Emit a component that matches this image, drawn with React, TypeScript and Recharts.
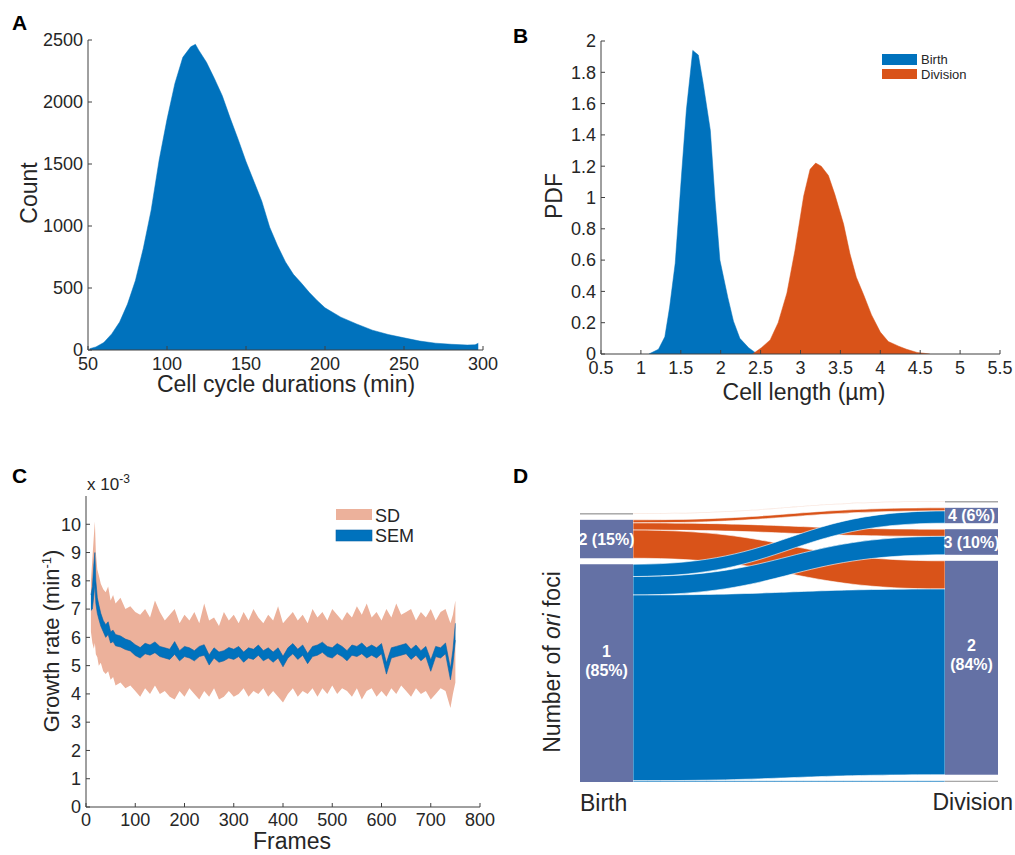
import { Area, AreaChart, Sankey, XAxis, YAxis } from "recharts";

const BLUE = "#0072BD";
const ORANGE = "#D95319";
const PEACH = "#ECB19B";
const SLATE = "#6471A5";
const AXIS_COLOR = "#404040";
const TEXT_COLOR = "#262626";
const FONT = "'Liberation Sans', Arial, Helvetica, sans-serif";
const TICK_LEN = 4;

// A: cell cycle durations
const cycleMinutes = [51, 55, 60, 65, 70, 75, 80, 85, 90, 95, 100, 105, 110, 115, 118, 120, 125, 130, 135, 140, 145, 150, 155, 160, 165, 170, 175, 180, 185, 190, 195, 200, 210, 220, 230, 240, 250, 260, 270, 280, 290, 295, 297];
const cycleCounts = [10, 25, 60, 130, 225, 370, 560, 820, 1130, 1530, 1860, 2150, 2360, 2445, 2465, 2420, 2320, 2190, 2050, 1870, 1700, 1520, 1360, 1200, 990, 840, 710, 610, 540, 465, 400, 340, 265, 210, 160, 125, 98, 72, 55, 46, 40, 42, 55];
const cycleTicksX = [50, 100, 150, 200, 250, 300];
const cycleTicksY = [0, 500, 1000, 1500, 2000, 2500];

// B: cell length PDFs
const birthLength = [1.1, 1.22, 1.3, 1.36, 1.43, 1.51, 1.57, 1.65, 1.72, 1.78, 1.87, 1.93, 1.99, 2.09, 2.16, 2.24, 2.35, 2.43, 2.5];
const birthPdf = [0, 0.03, 0.11, 0.3, 0.58, 1.15, 1.56, 1.94, 1.91, 1.73, 1.43, 0.98, 0.6, 0.36, 0.21, 0.1, 0.04, 0.01, 0];
const divisionLength = [2.4, 2.51, 2.62, 2.72, 2.83, 2.93, 3.04, 3.12, 3.19, 3.26, 3.35, 3.43, 3.54, 3.62, 3.7, 3.79, 3.89, 4.0, 4.1, 4.23, 4.33, 4.46, 4.62];
const divisionPdf = [0, 0.04, 0.09, 0.2, 0.39, 0.66, 1.01, 1.18, 1.22, 1.2, 1.14, 1.02, 0.83, 0.64, 0.49, 0.38, 0.25, 0.14, 0.08, 0.05, 0.03, 0.01, 0];
const lengthTicksX = [0.5, 1, 1.5, 2, 2.5, 3, 3.5, 4, 4.5, 5, 5.5];
const pdfTicksY = [0, 0.2, 0.4, 0.6, 0.8, 1, 1.2, 1.4, 1.6, 1.8, 2];

// C: growth rate (x 10^-3 min^-1)
const growthFrames = [10, 13, 16, 18, 20, 23, 26, 30, 35, 40, 45, 50, 55, 60, 70, 80, 90, 100, 110, 120, 130, 140, 150, 160, 170, 180, 190, 200, 210, 220, 230, 240, 250, 260, 270, 280, 290, 300, 310, 320, 330, 340, 350, 360, 370, 380, 390, 400, 410, 420, 430, 440, 450, 460, 470, 480, 490, 500, 510, 520, 530, 540, 550, 560, 570, 580, 590, 600, 610, 620, 630, 640, 650, 660, 670, 680, 690, 700, 710, 720, 730, 740, 745, 750];
const sdHigh = [8.0, 8.8, 9.6, 10.1, 9.0, 8.4, 8.2, 7.9, 7.7, 7.6, 7.8, 7.3, 7.5, 7.2,
  7.4, 7.0, 7.1, 6.9, 6.8, 7.0, 6.7, 7.3, 6.9, 6.6,
  6.8, 7.0, 6.5, 6.8, 6.6, 6.9, 6.5, 7.2, 6.6, 6.7,
  6.4, 6.9, 6.6, 6.8, 6.5, 6.9, 6.6, 7.0, 6.7, 6.5,
  6.8, 6.6, 7.1, 6.5, 6.7, 6.9, 6.6, 6.8, 6.5, 7.0,
  6.7, 6.9, 6.6, 7.0, 6.8, 6.6, 6.9, 6.7, 7.1, 6.8,
  7.2, 6.7, 6.9, 6.6, 7.0, 6.7, 7.2, 6.8, 6.9, 7.0,
  6.6, 6.9, 6.7, 7.0, 6.6, 6.9, 7.0, 6.5,
  6.8, 7.3];
const sdLow = [6.2, 5.8, 5.6, 5.8, 5.4, 5.3, 5.0, 5.1, 4.8, 4.7, 4.8, 4.5, 4.6, 4.3,
  4.4, 4.2, 4.3, 4.1, 3.9, 4.2, 4.0, 4.3, 4.0, 4.1,
  3.9, 3.8, 4.1, 3.9, 4.2, 4.0, 3.8, 4.1, 3.9, 4.2,
  3.8, 3.9, 4.1, 3.9, 4.0, 4.2, 3.9, 4.1, 4.0, 4.2,
  3.9, 4.1, 3.9, 3.7, 4.0, 4.2, 3.9, 4.1, 4.0, 4.2,
  3.9, 4.2, 4.0, 4.3, 4.0, 4.2, 4.1, 3.9, 4.2, 3.8,
  4.1, 4.2, 3.9, 4.1, 3.9, 4.2, 4.0, 4.3, 4.1, 3.9,
  4.2, 4.0, 4.1, 3.8, 4.0, 4.2, 4.1, 3.5,
  4.0, 4.4];
const semLow = [6.95, 7.0, 7.5, 7.9, 7.2, 6.85, 6.65, 6.4, 6.2, 6.0, 6.1, 5.8, 5.85, 5.7,
  5.66, 5.57, 5.52, 5.36, 5.27, 5.42, 5.37, 5.46, 5.32, 5.27,
  5.22, 5.4, 5.17, 5.32, 5.27, 5.17, 5.32, 5.37, 5.02, 5.27,
  5.12, 5.17, 5.27, 5.22, 5.32, 5.12, 5.27, 5.22, 5.37, 5.17,
  5.27, 5.12, 5.27, 4.96, 5.27, 5.42, 5.22, 5.37, 5.07, 5.32,
  5.37, 5.47, 5.32, 5.27, 5.42, 5.32, 5.17, 5.37, 5.32, 5.42,
  5.27, 5.37, 5.27, 5.42, 4.7, 5.27, 5.32, 5.37, 5.42, 5.22,
  5.37, 5.17, 5.32, 4.8, 5.32, 5.27, 5.42, 4.5,
  5.05, 5.9];
const semHigh = [7.5, 7.8, 8.6, 9.0, 8.0, 7.4, 7.15, 6.85, 6.6, 6.45, 6.55, 6.2, 6.25, 6.1,
  6.05, 5.94, 5.88, 5.74, 5.64, 5.79, 5.73, 5.84, 5.68, 5.63,
  5.58, 5.85, 5.53, 5.68, 5.63, 5.53, 5.68, 5.74, 5.38, 5.63,
  5.48, 5.53, 5.64, 5.58, 5.68, 5.48, 5.63, 5.58, 5.73, 5.53,
  5.63, 5.48, 5.63, 5.33, 5.63, 5.78, 5.58, 5.73, 5.43, 5.68,
  5.73, 5.83, 5.68, 5.63, 5.78, 5.68, 5.53, 5.73, 5.68, 5.8,
  5.63, 5.73, 5.63, 5.78, 5.1, 5.63, 5.68, 5.73, 5.78, 5.58,
  5.73, 5.53, 5.68, 5.2, 5.68, 5.63, 5.8, 4.9,
  5.55, 6.5];
const frameTicks = [0, 100, 200, 300, 400, 500, 600, 700, 800];
const growthTicks = [0, 1, 2, 3, 4, 5, 6, 7, 8, 9, 10];

// D: number of ori foci, birth -> division
const oriNodeKinds = ["spacer", "spacer", "minor", "major", "major", "minor", "major", "major", "major", "minor"];
const oriNodeLines = [[], [], [], ["2 (15%)"], ["1", "(85%)"], [], ["4 (6%)"], ["3 (10%)"], ["2", "(84%)"], []];
const oriLinkSource = [0, 1, 2, 3, 3, 3, 4, 4, 4, 4];
const oriLinkTarget = [5, 5, 5, 6, 7, 8, 6, 7, 8, 9];
const oriLinkValue = [0.01, 0.01, 0.3, 1.2, 2.8, 11, 4.8, 7.2, 72.5, 0.5];
const oriLinkColor = ["none", "none", "#f2c7b4", ORANGE, ORANGE, ORANGE, BLUE, BLUE, BLUE, BLUE];

const cycleRows = cycleMinutes.map((x, i) => ({ x, count: cycleCounts[i] }));
const birthRows = birthLength.map((x, i) => ({ x, pdf: birthPdf[i] }));
const divisionRows = divisionLength.map((x, i) => ({ x, pdf: divisionPdf[i] }));
const growthRows = growthFrames.map((frame, i) => ({
  frame,
  sd: [sdLow[i], sdHigh[i]],
  sem: [semLow[i], semHigh[i]],
}));
const oriData = {
  nodes: oriNodeKinds.map((kind, i) => ({ name: `n${i}`, kind, lines: oriNodeLines[i] })),
  links: oriLinkSource.map((source, i) => ({
    source,
    target: oriLinkTarget[i],
    value: oriLinkValue[i],
    color: oriLinkColor[i],
  })),
};

const fmtTick = (v: number) => String(Math.round(v * 10) / 10);

function BottomTick({ x = 0, y = 0, payload, dy = 20 }: any) {
  return (
    <g>
      <line x1={x} y1={y} x2={x} y2={y - TICK_LEN} stroke={AXIS_COLOR} />
      <text x={x} y={y + dy} textAnchor="middle" fontSize={18} fill={TEXT_COLOR}>
        {fmtTick(payload?.value ?? 0)}
      </text>
    </g>
  );
}

function LeftTick({ x = 0, y = 0, payload }: any) {
  return (
    <g>
      <line x1={x} y1={y} x2={x + TICK_LEN} y2={y} stroke={AXIS_COLOR} />
      <text x={x - 5} y={y} dy="0.35em" textAnchor="end" fontSize={18} fill={TEXT_COLOR}>
        {fmtTick(payload?.value ?? 0)}
      </text>
    </g>
  );
}

function TopTick({ x = 0, y = 0 }: any) {
  return <line x1={x} y1={y} x2={x} y2={y + TICK_LEN} stroke={AXIS_COLOR} />;
}

function RightTick({ x = 0, y = 0 }: any) {
  return <line x1={x} y1={y} x2={x - TICK_LEN} y2={y} stroke={AXIS_COLOR} />;
}

function boxAxes(opts: {
  xKey: string;
  xDomain: [number, number];
  xTicks: number[];
  yDomain: [number, number];
  yTicks: number[];
  xHeight: number;
  yWidth: number;
  labelDy: number;
}) {
  const common = { tickSize: 0, tickMargin: 0, tickLine: false, interval: 0 as const, allowDataOverflow: true, axisLine: { stroke: AXIS_COLOR } };
  return (
    <>
      <XAxis xAxisId="b" dataKey={opts.xKey} type="number" domain={opts.xDomain} ticks={opts.xTicks} height={opts.xHeight} {...common}
        tick={(p: any) => <BottomTick {...p} dy={opts.labelDy} />} />
      <XAxis xAxisId="t" orientation="top" dataKey={opts.xKey} type="number" domain={opts.xDomain} ticks={opts.xTicks} height={0} {...common}
        tick={(p: any) => <TopTick {...p} />} />
      <YAxis yAxisId="l" type="number" domain={opts.yDomain} ticks={opts.yTicks} width={opts.yWidth} {...common}
        tick={(p: any) => <LeftTick {...p} />} />
      <YAxis yAxisId="r" orientation="right" type="number" domain={opts.yDomain} ticks={opts.yTicks} width={0} {...common}
        tick={(p: any) => <RightTick {...p} />} />
    </>
  );
}

function OriNode(props: any) {
  const { x, y, width, height, payload } = props;
  if (payload.kind === "spacer") return <g />;
  if (payload.kind === "minor") {
    return <rect x={x} y={y} width={width} height={Math.max(height, 1.5)} fill="#a8a8a8" />;
  }
  const lines: string[] = payload.lines;
  const cy = lines.length > 1 ? y + height / 2 - 22 : y + height / 2;
  return (
    <g>
      <rect x={x} y={y} width={width} height={height} fill={SLATE} />
      {lines.map((t, i) => (
        <text key={i} x={x + width / 2} y={cy + i * 19} dy="0.35em" textAnchor="middle" fill="#fff" fontSize={16} fontWeight="bold">
          {t}
        </text>
      ))}
    </g>
  );
}

function OriLink(props: any) {
  const { sourceX, targetX, sourceY, targetY, sourceControlX, targetControlX, linkWidth, payload } = props;
  if (payload.color === "none") return <g />;
  const h = linkWidth / 2;
  const d = `M${sourceX},${sourceY - h} C${sourceControlX},${sourceY - h} ${targetControlX},${targetY - h} ${targetX},${targetY - h} L${targetX},${targetY + h} C${targetControlX},${targetY + h} ${sourceControlX},${sourceY + h} ${sourceX},${sourceY + h} Z`;
  return <path d={d} fill={payload.color} stroke="#fff" strokeWidth={0.6} />;
}

export default function App() {
  return (
    <div style={{ position: "absolute", left: 0, top: 0, width: 1015, height: 855, background: "#fff", fontFamily: FONT }}>
      {/* A */}
      <div style={{ position: "absolute", left: 0, top: 0 }}>
        <AreaChart width={500} height={400} data={cycleRows} margin={{ top: 40, right: 17, bottom: 0, left: 0 }}>
          {boxAxes({ xKey: "x", xDomain: [50, 300], xTicks: cycleTicksX, yDomain: [0, 2500], yTicks: cycleTicksY, xHeight: 50, yWidth: 88, labelDy: 20 })}
          <Area xAxisId="b" yAxisId="l" type="linear" dataKey="count" stroke={BLUE} strokeWidth={0.5} fill={BLUE} fillOpacity={1} isAnimationActive={false} />
        </AreaChart>
      </div>

      {/* B */}
      <div style={{ position: "absolute", left: 500, top: 0 }}>
        <AreaChart width={515} height={400} margin={{ top: 41, right: 15, bottom: 0, left: 0 }}>
          {boxAxes({ xKey: "x", xDomain: [0.5, 5.5], xTicks: lengthTicksX, yDomain: [0, 2], yTicks: pdfTicksY, xHeight: 46, yWidth: 101, labelDy: 20 })}
          <Area data={birthRows} xAxisId="b" yAxisId="l" type="linear" dataKey="pdf" stroke={BLUE} strokeWidth={0.5} fill={BLUE} fillOpacity={1} isAnimationActive={false} />
          <Area data={divisionRows} xAxisId="b" yAxisId="l" type="linear" dataKey="pdf" stroke={ORANGE} strokeWidth={0.5} fill={ORANGE} fillOpacity={1} isAnimationActive={false} />
        </AreaChart>
      </div>

      {/* C */}
      <div style={{ position: "absolute", left: 0, top: 460 }}>
        <AreaChart width={500} height={395} data={growthRows} margin={{ top: 36, right: 20, bottom: 0, left: 0 }}>
          {boxAxes({ xKey: "frame", xDomain: [0, 800], xTicks: frameTicks, yDomain: [0, 11], yTicks: growthTicks, xHeight: 48, yWidth: 86, labelDy: 19 })}
          <Area xAxisId="b" yAxisId="l" type="linear" dataKey="sd" stroke="none" fill={PEACH} fillOpacity={1} isAnimationActive={false} />
          <Area xAxisId="b" yAxisId="l" type="linear" dataKey="sem" stroke="#0a62a6" strokeWidth={0.6} fill={BLUE} fillOpacity={1} isAnimationActive={false} />
        </AreaChart>
      </div>

      {/* D */}
      <div style={{ position: "absolute", left: 572, top: 501 }}>
        <Sankey
          width={446}
          height={281}
          data={oriData}
          margin={{ top: 0, right: 20, bottom: 0, left: 8 }}
          nodeWidth={53}
          nodePadding={6}
          iterations={0}
          sort={false}
          linkCurvature={0.5}
          node={(p: any) => <OriNode {...p} />}
          link={(p: any) => <OriLink {...p} />}
        />
      </div>

      {/* titles, axis labels, legends */}
      <svg width={1015} height={855} style={{ position: "absolute", left: 0, top: 0, pointerEvents: "none" }} fontFamily={FONT} fill={TEXT_COLOR}>
        <text x={12} y={30} fontSize={21} fontWeight="bold" fill="#000">A</text>
        <text x={513} y={43} fontSize={21} fontWeight="bold" fill="#000">B</text>
        <text x={12} y={483} fontSize={21} fontWeight="bold" fill="#000">C</text>
        <text x={513} y={483} fontSize={21} fontWeight="bold" fill="#000">D</text>

        <text x={37} y={193} fontSize={23} textAnchor="middle" transform="rotate(-90 37 193)">Count</text>
        <text x={286} y={392} fontSize={23} textAnchor="middle">Cell cycle durations (min)</text>

        <text x={562} y={196} fontSize={23} textAnchor="middle" transform="rotate(-90 562 196)">PDF</text>
        <text x={804} y={400} fontSize={23} textAnchor="middle">Cell length (µm)</text>
        <rect x={882} y={54} width={35} height={11} fill={BLUE} />
        <rect x={882} y={69} width={35} height={10} fill={ORANGE} />
        <text x={921} y={64} fontSize={13}>Birth</text>
        <text x={921} y={79} fontSize={13}>Division</text>

        <text x={87} y={490} fontSize={17}>
          x 10<tspan dy={-7} fontSize={12}>-3</tspan>
        </text>
        <text x={59} y={641} fontSize={22} textAnchor="middle" transform="rotate(-90 59 641)">
          Growth rate (min<tspan dy={-8} fontSize={13}>-1</tspan><tspan dy={8}>)</tspan>
        </text>
        <text x={292} y={849} fontSize={23} textAnchor="middle">Frames</text>
        <rect x={336} y={509} width={36} height={11} fill={PEACH} />
        <rect x={336} y={530} width={36} height={11} fill={BLUE} stroke="#0a62a6" strokeWidth={0.6} />
        <text x={375} y={522} fontSize={18}>SD</text>
        <text x={375} y={542} fontSize={18}>SEM</text>

        <text x={560} y={662} fontSize={23} textAnchor="middle" transform="rotate(-90 560 662)">
          Number of <tspan fontStyle="italic">ori</tspan> foci
        </text>
        <text x={580} y={811} fontSize={23}>Birth</text>
        <text x={1013} y={810} fontSize={23} textAnchor="end">Division</text>
      </svg>
    </div>
  );
}
